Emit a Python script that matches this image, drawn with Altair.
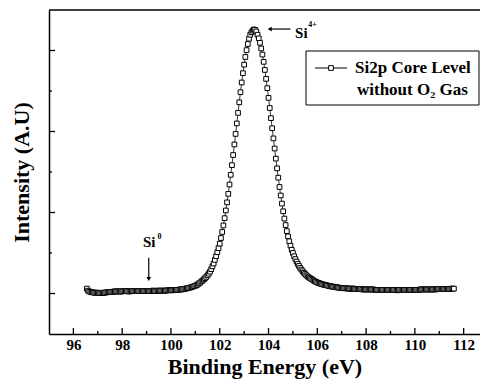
import altair as alt
import pandas as pd

# ---------------- data ----------------
# Si2p spectrum: (binding energy in eV, intensity in arbitrary units)
spectrum = [
    (96.55, 0.12), (96.60, 0.07), (96.65, 0.05), (96.70, 0.04), (96.75, 0.03), (96.80, 0.03),
    (96.85, 0.02), (96.90, 0.02), (96.95, 0.02), (97.00, 0.02), (97.05, 0.01), (97.10, 0.01),
    (97.15, 0.01), (97.20, 0.02), (97.25, 0.02), (97.30, 0.02), (97.35, 0.03), (97.40, 0.03),
    (97.45, 0.04), (97.50, 0.04), (97.55, 0.04), (97.60, 0.04), (97.65, 0.05), (97.70, 0.05),
    (97.75, 0.05), (97.80, 0.05), (97.85, 0.05), (97.90, 0.05), (97.95, 0.05), (98.00, 0.05),
    (98.05, 0.06), (98.10, 0.06), (98.15, 0.06), (98.20, 0.06), (98.25, 0.05), (98.30, 0.05),
    (98.35, 0.06), (98.40, 0.06), (98.45, 0.06), (98.50, 0.06), (98.55, 0.06), (98.60, 0.06),
    (98.65, 0.06), (98.70, 0.06), (98.75, 0.06), (98.80, 0.06), (98.85, 0.06), (98.90, 0.06),
    (98.95, 0.06), (99.00, 0.06), (99.05, 0.06), (99.10, 0.06), (99.15, 0.06), (99.20, 0.06),
    (99.25, 0.07), (99.30, 0.07), (99.35, 0.06), (99.40, 0.06), (99.45, 0.07), (99.50, 0.07),
    (99.55, 0.07), (99.60, 0.07), (99.65, 0.07), (99.70, 0.07), (99.75, 0.07), (99.80, 0.07),
    (99.85, 0.08), (99.90, 0.08), (99.95, 0.08), (100.00, 0.08), (100.05, 0.08), (100.10, 0.08),
    (100.15, 0.09), (100.20, 0.09), (100.25, 0.09), (100.30, 0.09), (100.35, 0.10), (100.40, 0.10),
    (100.45, 0.10), (100.50, 0.11), (100.55, 0.11), (100.60, 0.12), (100.65, 0.13), (100.70, 0.13),
    (100.75, 0.14), (100.80, 0.15), (100.85, 0.16), (100.90, 0.17), (100.95, 0.18), (101.00, 0.19),
    (101.05, 0.21), (101.10, 0.22), (101.15, 0.25), (101.20, 0.27), (101.25, 0.30), (101.30, 0.32),
    (101.35, 0.35), (101.40, 0.38), (101.45, 0.41), (101.50, 0.45), (101.55, 0.49), (101.60, 0.54),
    (101.65, 0.60), (101.70, 0.67), (101.75, 0.74), (101.80, 0.83), (101.85, 0.92), (101.90, 1.02),
    (101.95, 1.12), (102.00, 1.23), (102.05, 1.37), (102.10, 1.52), (102.15, 1.68), (102.20, 1.86),
    (102.25, 2.05), (102.30, 2.25), (102.35, 2.46), (102.40, 2.69), (102.45, 2.93), (102.50, 3.17),
    (102.55, 3.42), (102.60, 3.68), (102.65, 3.94), (102.70, 4.20), (102.75, 4.46), (102.80, 4.72),
    (102.85, 4.97), (102.90, 5.21), (102.95, 5.44), (103.00, 5.65), (103.05, 5.84), (103.10, 6.01),
    (103.15, 6.16), (103.20, 6.29), (103.25, 6.39), (103.30, 6.45), (103.35, 6.49), (103.40, 6.52),
    (103.45, 6.51), (103.50, 6.47), (103.55, 6.39), (103.60, 6.30), (103.65, 6.19), (103.70, 6.05),
    (103.75, 5.90), (103.80, 5.72), (103.85, 5.52), (103.90, 5.30), (103.95, 5.07), (104.00, 4.83),
    (104.05, 4.58), (104.10, 4.33), (104.15, 4.08), (104.20, 3.83), (104.25, 3.58), (104.30, 3.33),
    (104.35, 3.09), (104.40, 2.86), (104.45, 2.63), (104.50, 2.42), (104.55, 2.22), (104.60, 2.03),
    (104.65, 1.85), (104.70, 1.69), (104.75, 1.54), (104.80, 1.41), (104.85, 1.29), (104.90, 1.18),
    (104.95, 1.08), (105.00, 1.00), (105.05, 0.92), (105.10, 0.85), (105.15, 0.79), (105.20, 0.73),
    (105.25, 0.68), (105.30, 0.63), (105.35, 0.59), (105.40, 0.55), (105.45, 0.51), (105.50, 0.48),
    (105.55, 0.45), (105.60, 0.42), (105.65, 0.40), (105.70, 0.38), (105.75, 0.36), (105.80, 0.34),
    (105.85, 0.32), (105.90, 0.30), (105.95, 0.29), (106.00, 0.27), (106.05, 0.26), (106.10, 0.25),
    (106.15, 0.24), (106.20, 0.23), (106.25, 0.22), (106.30, 0.21), (106.35, 0.21), (106.40, 0.20),
    (106.45, 0.19), (106.50, 0.18), (106.55, 0.18), (106.60, 0.17), (106.65, 0.17), (106.70, 0.16),
    (106.75, 0.16), (106.80, 0.15), (106.85, 0.15), (106.90, 0.14), (106.95, 0.14), (107.00, 0.14),
    (107.05, 0.13), (107.10, 0.13), (107.15, 0.13), (107.20, 0.13), (107.25, 0.12), (107.30, 0.12),
    (107.35, 0.12), (107.40, 0.12), (107.45, 0.12), (107.50, 0.12), (107.55, 0.11), (107.60, 0.11),
    (107.65, 0.11), (107.70, 0.11), (107.75, 0.11), (107.80, 0.11), (107.85, 0.10), (107.90, 0.10),
    (107.95, 0.10), (108.00, 0.10), (108.05, 0.10), (108.10, 0.10), (108.15, 0.10), (108.20, 0.10),
    (108.25, 0.10), (108.30, 0.10), (108.35, 0.09), (108.40, 0.09), (108.45, 0.09), (108.50, 0.09),
    (108.55, 0.09), (108.60, 0.09), (108.65, 0.09), (108.70, 0.09), (108.75, 0.09), (108.80, 0.09),
    (108.85, 0.09), (108.90, 0.09), (108.95, 0.09), (109.00, 0.09), (109.05, 0.09), (109.10, 0.09),
    (109.15, 0.09), (109.20, 0.09), (109.25, 0.08), (109.30, 0.08), (109.35, 0.09), (109.40, 0.09),
    (109.45, 0.09), (109.50, 0.09), (109.55, 0.09), (109.60, 0.09), (109.65, 0.09), (109.70, 0.09),
    (109.75, 0.09), (109.80, 0.09), (109.85, 0.09), (109.90, 0.09), (109.95, 0.09), (110.00, 0.09),
    (110.05, 0.09), (110.10, 0.09), (110.15, 0.09), (110.20, 0.10), (110.25, 0.10), (110.30, 0.10),
    (110.35, 0.10), (110.40, 0.10), (110.45, 0.10), (110.50, 0.10), (110.55, 0.10), (110.60, 0.10),
    (110.65, 0.10), (110.70, 0.10), (110.75, 0.10), (110.80, 0.10), (110.85, 0.10), (110.90, 0.11),
    (110.95, 0.11), (111.00, 0.11), (111.05, 0.11), (111.10, 0.11), (111.15, 0.11), (111.20, 0.11),
    (111.25, 0.11), (111.30, 0.11), (111.35, 0.11), (111.40, 0.11), (111.45, 0.11), (111.50, 0.12),
    (111.55, 0.12), (111.60, 0.12),
]

x_major_ticks = [96, 98, 100, 102, 104, 106, 108, 110, 112]
x_minor_ticks = [97, 99, 101, 103, 105, 107, 109, 111]
y_major_ticks = [0, 2, 4, 6]
y_minor_ticks = [1, 3, 5]

series_name = ["Si2p Core Level", "without O\u2082 Gas"]

# annotations
ann_main_text = ["Si", "Si"]
ann_main_E = [105.09, 98.85]
ann_main_I = [6.44, 1.26]
ann_sup_text = ["4+", "0"]
ann_sup_E = [105.80, 99.53]
ann_sup_I = [6.64, 1.40]
arrow_h_E = [104.05, 104.9]   # Si4+ arrow: head, tail
arrow_h_I = [6.53]
arrow_v_E = [99.09]           # Si0 arrow
arrow_v_I = [0.36, 0.88]      # head, tail

FONT = "Liberation Serif"
W, H = 431, 324

df = pd.DataFrame(spectrum, columns=["E", "I"])

x_scale = alt.Scale(domain=[95, 112.67], nice=False, zero=False)
y_scale = alt.Scale(domain=[-1, 7], nice=False, zero=False)

x_axis = alt.Axis(
    orient="bottom", values=x_major_ticks, title="Binding Energy (eV)", grid=False,
    domainColor="black", domainWidth=1.5, ticks=False,
    labelFont=FONT, labelFontSize=15, labelFontWeight="bold", labelColor="black",
    labelPadding=3, labelFlush=False,
    titleFont=FONT, titleFontSize=22, titleFontWeight="bold", titleColor="black",
    titlePadding=4,
)
y_axis = alt.Axis(
    orient="left", values=y_major_ticks, title="Intensity (A.U)", labels=False, grid=False,
    domainColor="black", domainWidth=1.5, ticks=False,
    titleFont=FONT, titleFontSize=22, titleFontWeight="bold", titleColor="black",
    titlePadding=16,
)

base = alt.Chart(df)
line = base.mark_line(color="black", strokeWidth=0.8).encode(
    x=alt.X("E:Q", scale=x_scale, axis=x_axis),
    y=alt.Y("I:Q", scale=y_scale, axis=y_axis),
)
points = base.mark_point(
    shape="square", size=22, filled=True, fill="white", stroke="black",
    strokeWidth=1, opacity=1,
).encode(
    x=alt.X("E:Q", scale=x_scale, axis=None),
    y=alt.Y("I:Q", scale=y_scale, axis=None),
)

# inward axis ticks (major longer than minor), placed through the scales
def x_ticks(vals, length):
    return alt.Chart(pd.DataFrame({"t": vals})).mark_rule(color="black", strokeWidth=1.3).encode(
        x=alt.X("t:Q", scale=x_scale, axis=None), y=alt.value(H), y2=alt.value(H - length)
    )


def y_ticks(vals, length):
    return alt.Chart(pd.DataFrame({"t": vals})).mark_rule(color="black", strokeWidth=1.3).encode(
        y=alt.Y("t:Q", scale=y_scale, axis=None), x=alt.value(0), x2=alt.value(length)
    )


ticks = [x_ticks(x_major_ticks, 6), x_ticks(x_minor_ticks, 3),
         y_ticks(y_major_ticks, 6), y_ticks(y_minor_ticks, 3)]

top_frame = alt.Chart(pd.DataFrame({"v": [7]})).mark_rule(
    color="black", strokeWidth=1.5
).encode(y=alt.Y("v:Q", scale=y_scale, axis=None))


def xy(xf="E", yf="I"):
    return dict(
        x=alt.X(f"{xf}:Q", scale=x_scale, axis=None),
        y=alt.Y(f"{yf}:Q", scale=y_scale, axis=None),
    )


ann_main = alt.Chart(pd.DataFrame({"t": ann_main_text, "E": ann_main_E, "I": ann_main_I})).mark_text(
    font=FONT, fontSize=15, fontWeight="bold", color="black", align="left", baseline="middle"
).encode(text="t:N", **xy())

ann_sup = alt.Chart(pd.DataFrame({"t": ann_sup_text, "E": ann_sup_E, "I": ann_sup_I})).mark_text(
    font=FONT, fontSize=8, fontWeight="bold", color="black", align="center", baseline="middle"
).encode(text="t:N", **xy())

h_arrow_line = alt.Chart(pd.DataFrame({"E": [arrow_h_E[0]], "E2": [arrow_h_E[1]], "I": arrow_h_I})).mark_rule(
    color="black", strokeWidth=1.2
).encode(x2="E2:Q", **xy())
h_arrow_head = alt.Chart(pd.DataFrame({"E": [arrow_h_E[0]], "I": arrow_h_I})).mark_point(
    shape="triangle-left", filled=True, color="black", size=22, opacity=1
).encode(**xy())

v_arrow_line = alt.Chart(pd.DataFrame({"E": arrow_v_E, "I": [arrow_v_I[0]], "I2": [arrow_v_I[1]]})).mark_rule(
    color="black", strokeWidth=1.2
).encode(y2="I2:Q", **xy())
v_arrow_head = alt.Chart(pd.DataFrame({"E": arrow_v_E, "I": [arrow_v_I[0]]})).mark_point(
    shape="triangle-down", filled=True, color="black", size=22, opacity=1
).encode(**xy())

# legend drawn by hand (box, symbol, two-line label)
one = pd.DataFrame({"k": [0]})
leg_box = alt.Chart(one).mark_rect(fill="white", stroke="black", strokeWidth=1).encode(
    x=alt.value(257), x2=alt.value(430), y=alt.value(41), y2=alt.value(95)
)
leg_line = alt.Chart(one).mark_rule(color="black", strokeWidth=1).encode(
    x=alt.value(266), x2=alt.value(298), y=alt.value(58)
)
leg_sym = alt.Chart(one).mark_point(
    shape="square", size=22, filled=True, fill="white", stroke="black", strokeWidth=1, opacity=1
).encode(x=alt.value(282), y=alt.value(58))
leg_t1 = alt.Chart(one).mark_text(
    font=FONT, fontSize=17, fontWeight="bold", color="black", align="left", baseline="middle",
    text=series_name[0],
).encode(x=alt.value(306), y=alt.value(58))
leg_t2 = alt.Chart(one).mark_text(
    font=FONT, fontSize=17, fontWeight="bold", color="black", align="left", baseline="middle",
    text=series_name[1],
).encode(x=alt.value(308), y=alt.value(80))

chart = alt.layer(
    line, points, top_frame, *ticks,
    h_arrow_line, h_arrow_head, v_arrow_line, v_arrow_head,
    ann_main, ann_sup,
    leg_box, leg_line, leg_sym, leg_t1, leg_t2,
).resolve_axis(
    x="independent", y="independent"
).properties(
    width=W, height=H,
    autosize=alt.AutoSizeParams(type="none"),
    padding={"left": 41, "top": 2, "right": 0, "bottom": 50},
    background="white",
).configure_view(stroke=None)

chart.save("out.html", embed_options={"renderer": "svg", "actions": False})
